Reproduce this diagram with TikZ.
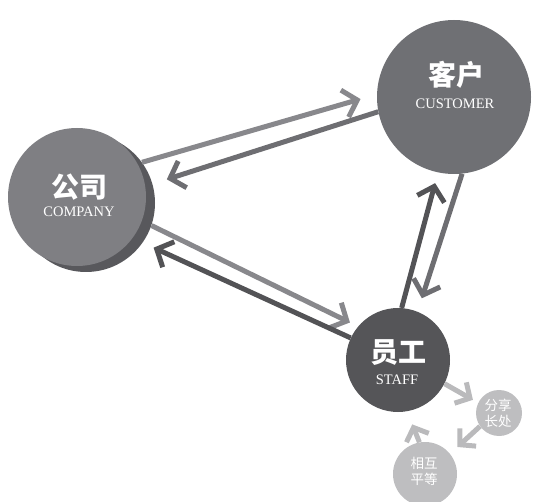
\documentclass[tikz,border=0pt]{standalone}
\usepackage{fontspec}
\setmainfont{Liberation Serif}
\newfontfamily\cjk{Noto Sans CJK SC}
\usetikzlibrary{arrows.meta}
\definecolor{compface}{HTML}{7F7F83}
\definecolor{compshade}{HTML}{58585C}
\definecolor{custface}{HTML}{6F7074}
\definecolor{staffface}{HTML}{555558}
\definecolor{smallface}{HTML}{BEBEC0}
\definecolor{arrowlight}{HTML}{88888C}
\definecolor{arrowmid}{HTML}{6E6E72}
\definecolor{arrowdark}{HTML}{535356}
\definecolor{arrowpale}{HTML}{BABABC}

\begin{document}
\begin{tikzpicture}[x=1pt,y=-1pt]
\tikzstyle{every node}+=[inner sep=0pt]
\tikzstyle{disc}=[circle, draw=none]
\tikzstyle{zhbig}=[text=white, font=\cjk\bfseries\fontsize{28}{28}\selectfont]
\tikzstyle{enlabel}=[text=white, font=\fontsize{14.5}{14.5}\selectfont]
\tikzstyle{zhsmall}=[text=white, font=\cjk\fontsize{13.5}{16}\selectfont, align=center]
\tikzstyle{bigarrow}=[line width=5pt, -{Straight Barb[length=13pt,width=28pt]}]
\tikzstyle{smallarrow}=[line width=5pt, draw=arrowpale, -{Straight Barb[length=11pt,width=24pt]}]
\useasboundingbox (0,0) rectangle (535,502);
\node [disc, fill=compshade, minimum size=138pt] (compshadow) at (86,203) {};
\node [disc, fill=compface, minimum size=138pt] (company) at (77,197) {};
\node [zhbig] (companyzh) at (79,187) {公司};
\node [enlabel] (companyen) at (79,212) {COMPANY};
\node [disc, fill=custface, minimum size=154pt] (customer) at (454,97) {};
\node [zhbig] (customerzh) at (456,75) {客户};
\node [enlabel] (customeren) at (455,104) {CUSTOMER};
\node [disc, fill=staffface, minimum size=104pt] (staff) at (398,360) {};
\node [zhbig] (staffzh) at (398,353) {员工};
\node [enlabel] (staffen) at (397,380) {STAFF};
\node [disc, fill=smallface, minimum size=46pt] (share) at (499,413) {};
\node [zhsmall] (sharetxt) at (498,413) {分享\\长处};
\node [disc, fill=smallface, minimum size=64pt] (mutual) at (425,474) {};
\node [zhsmall] (mutualtxt) at (424,471) {相互\\平等};
\draw [bigarrow, draw=arrowlight, shorten >=17pt] (compshadow.36) -- (customer.178);
\draw [bigarrow, draw=arrowmid, shorten >=15pt] (customer.191) -- (compshadow.16);
\draw [bigarrow, draw=arrowlight, shorten >=9pt] (compshadow.-19) -- (staff.140);
\draw [bigarrow, draw=arrowdark, shorten >=12pt] (staff.155) -- (compshadow.-35);
\draw [bigarrow, draw=arrowdark, shorten >=11pt] (staff.86) -- (customer.258);
\draw [bigarrow, draw=arrowmid, shorten >=14pt] (customer.-84) -- (staff.68);
\draw [smallarrow, shorten >=6pt] (staff.-27) -- (share.154);
\draw [smallarrow, shorten >=10pt] (share.215) -- (mutual.39);
\draw [smallarrow, shorten >=14pt] (mutual.100) -- (staff.-80);
\end{tikzpicture}
\end{document}
